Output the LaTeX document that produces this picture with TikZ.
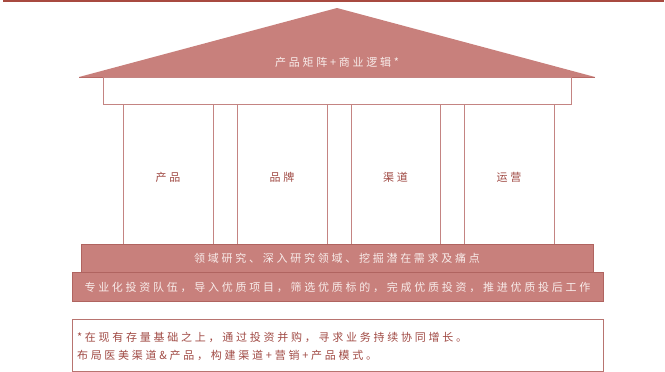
\documentclass[tikz,border=0pt]{standalone}
\usepackage{fontspec}
\newfontfamily\cjk[LetterSpace=25]{Noto Sans CJK SC}
\definecolor{topline}{HTML}{A84A40}
\definecolor{roof}{HTML}{C8807C}
\definecolor{roofedge}{HTML}{B86A66}
\definecolor{colline}{HTML}{C48482}
\definecolor{baseedge}{HTML}{B06460}
\definecolor{lighttxt}{HTML}{F8ECEA}
\definecolor{redtxt}{HTML}{A04A44}
\definecolor{boxedge}{HTML}{B87470}
\begin{document}
\begin{tikzpicture}[x=1pt,y=-1pt,
  every node/.style={inner sep=0pt,outer sep=0pt},
  txt/.style={font=\cjk\fontsize{11pt}{13pt}\selectfont},
  pillar/.style={draw=colline,line width=0.8pt,fill=white},
  slab/.style={draw=baseedge,line width=0.8pt,fill=roof}]
\useasboundingbox (0,0) rectangle (665,372);
% top rule
\draw[topline,line width=1.5pt] (3,0.75) -- (664,0.75);
% roof
\fill[roof] (79,77) -- (337,8) -- (595,77) -- cycle;
\draw[roofedge,line width=0.6pt] (79,77) -- (595,77);
\node[txt,text=lighttxt] (rooftxt) at (337,62) {产品矩阵+商业逻辑*};
% beam
\draw[pillar] (103,77) rectangle (571,104);
% columns
\draw[pillar] (123,104) rectangle (213,244);
\draw[pillar] (237,104) rectangle (327,244);
\draw[pillar] (351,104) rectangle (440,244);
\draw[pillar] (464,104) rectangle (554,244);
\node[txt,text=redtxt] (c1) at (168,177) {产品};
\node[txt,text=redtxt] (c2) at (282,177) {品牌};
\node[txt,text=redtxt] (c3) at (395.5,177) {渠道};
\node[txt,text=redtxt] (c4) at (509,177) {运营};
% bases
\draw[slab] (81,244) rectangle (593,272);
\node[txt,text=lighttxt] (b1) at (337,258) {领域研究、深入研究领域、挖掘潜在需求及痛点};
\draw[slab] (72,272) rectangle (603,301);
\node[txt,text=lighttxt] (b2) at (337.5,287) {专业化投资队伍，导入优质项目，筛选优质标的，完成优质投资，推进优质投后工作};
% note box
\draw[boxedge,line width=1pt] (72,319) rectangle (603,371);
\node[txt,text=redtxt,anchor=west] (n1) at (77,337.5) {*在现有存量基础之上，通过投资并购，寻求业务持续协同增长。};
\node[txt,text=redtxt,anchor=west] (n2) at (77,355.5) {布局医美渠道\&产品，构建渠道+营销+产品模式。};
\end{tikzpicture}
\end{document}
